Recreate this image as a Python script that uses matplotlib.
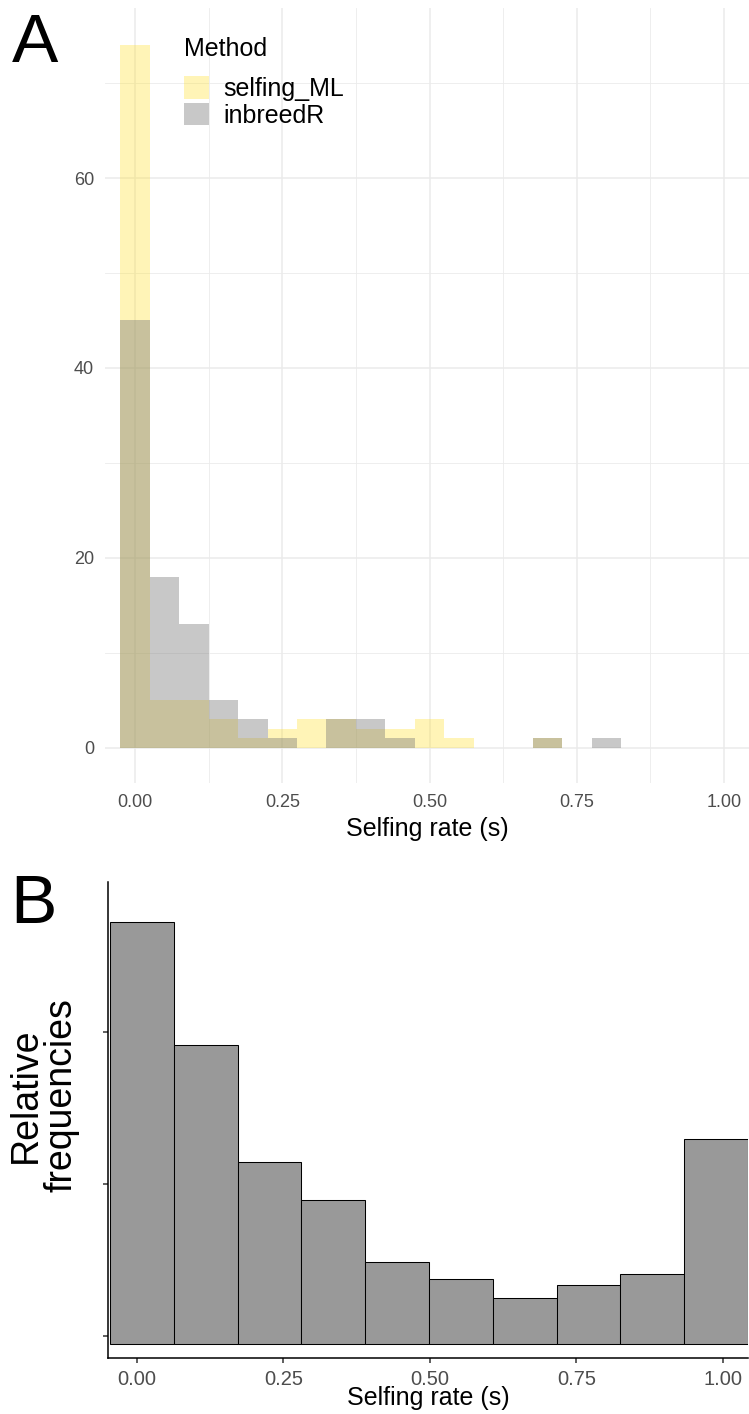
import numpy as np
import matplotlib
matplotlib.use('Agg')
import matplotlib.pyplot as plt
from matplotlib.patches import Patch

plt.rcParams['font.family'] = ['Liberation Sans', 'DejaVu Sans']

# Panel A: counts per 0.05-wide bin, bins centred on 0.00, 0.05, ..., 1.00
bin_centres = np.round(np.arange(0, 1.0001, 0.05), 2)
selfing_ml = [74, 5, 5, 3, 1, 2, 3, 3, 2, 2, 3, 1, 0, 0, 1, 0, 0, 0, 0, 0, 0]
inbreedr = [45, 18, 13, 5, 3, 1, 0, 3, 3, 1, 0, 0, 0, 0, 1, 0, 1, 0, 0, 0, 0]
methods = ['selfing_ML', 'inbreedR']

# Panel B: relative frequencies over 10 bins
b_edges = np.linspace(-0.046, 1.043, 11)
rel_freq = [0.278, 0.197, 0.120, 0.095, 0.054, 0.043, 0.030, 0.039, 0.046, 0.135]

x_ticks = [0, 0.25, 0.5, 0.75, 1.0]
x_labels = ['0.00', '0.25', '0.50', '0.75', '1.00']

W, H = 749, 1414
fig = plt.figure(figsize=(W / 100, H / 100), dpi=100)

yellow = '#FFE033'
grey = '#767676'

# ---- panel A
axA = fig.add_axes([105 / W, 1 - 783 / H, 645 / W, 775 / H])
axA.bar(bin_centres, selfing_ml, width=0.05, color=yellow, alpha=0.35, lw=0, zorder=2)
axA.bar(bin_centres, inbreedr, width=0.05, color=grey, alpha=0.4, lw=0, zorder=3)
axA.set_xlim(-0.051, 1.044)
axA.set_ylim(-3.7, 77.9)
axA.set_xticks(x_ticks)
axA.set_xticklabels(x_labels)
axA.set_xticks([0.125, 0.375, 0.625, 0.875], minor=True)
axA.set_yticks([0, 20, 40, 60])
axA.set_yticks([10, 30, 50, 70], minor=True)
axA.set_axisbelow(True)
axA.grid(which='major', color='#EBEBEB', lw=1.1)
axA.grid(which='minor', color='#EBEBEB', lw=0.6)
for s in axA.spines.values():
    s.set_visible(False)
axA.tick_params(which='both', length=0, labelsize=13, labelcolor='#4D4D4D', pad=8)
axA.set_xlabel('Selfing rate (s)', fontsize=18, labelpad=4)

handles = [Patch(facecolor=yellow, alpha=0.35, lw=0),
           Patch(facecolor=grey, alpha=0.4, lw=0)]
leg = axA.legend(handles, methods, title='Method', loc='upper left',
                 bbox_to_anchor=(184 / W, 1 - 37 / H), bbox_transform=fig.transFigure,
                 frameon=False, fontsize=18, title_fontsize=18, borderpad=0,
                 borderaxespad=0, handlelength=1.0, handleheight=1.0,
                 labelspacing=0.08, handletextpad=0.56, alignment='left')
# more room between the title and the keys
leg._legend_box.sep = 11

# ---- panel B
axB = fig.add_axes([108 / W, 1 - 1358 / H, 640 / W, 476 / H])
axB.bar(b_edges[:-1], rel_freq, width=np.diff(b_edges), align='edge',
        color='#999999', edgecolor='black', lw=0.75)
axB.set_xlim(-0.0495, 1.043)
axB.set_ylim(-0.0092, 0.304)
axB.set_xticks(x_ticks)
axB.set_xticklabels(x_labels)
axB.set_yticks([0.005, 0.105, 0.205])
axB.set_yticklabels([])
for side in ['top', 'right']:
    axB.spines[side].set_visible(False)
for side in ['left', 'bottom']:
    axB.spines[side].set_linewidth(1.1)
axB.tick_params(length=3.6, width=1.1, color='#333333', labelsize=14.5,
                labelcolor='#4D4D4D', pad=5)
axB.set_xlabel('Selfing rate (s)', fontsize=18, labelpad=-2)
fig.text(44 / W, 1 - 1095 / H, 'Relative\nfrequencies', rotation=90, fontsize=27,
         ha='center', va='center', multialignment='center', linespacing=1.0)

# panel letters
fig.text(12 / W, 1 - 62 / H, 'A', fontsize=50, va='baseline')
fig.text(10 / W, 1 - 923 / H, 'B', fontsize=50, va='baseline')

fig.savefig('out.png', dpi=100)
